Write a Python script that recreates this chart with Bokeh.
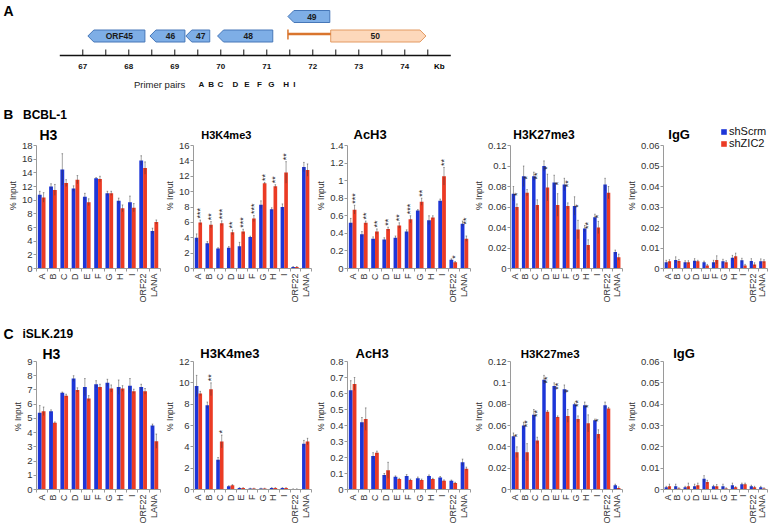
import math
from bokeh.plotting import figure
from bokeh.models import Range1d, FixedTicker, ColumnDataSource, Legend, LegendItem
from bokeh.layouts import column, row
from bokeh.embed import file_html
from bokeh.resources import INLINE
from bokeh.core.properties import value

FONT = "Liberation Sans"
BLUE = "#1d36d8"
RED = "#eb3b24"

sites = ["A", "B", "C", "D", "E", "F", "G", "H", "I", "ORF22", "LANA"]
series_names = ["shScrm", "shZIC2"]

# ---------------- gene map (kb) ----------------
gene_names = ["ORF45", "46", "47", "48", "49", "50"]
gene_start = [67.11, 68.46, 69.24, 69.93, 71.46, 72.39]
gene_end = [68.35, 69.22, 69.76, 71.13, 72.37, 74.46]
gene_strand = [-1, -1, -1, -1, -1, 1]
gene_track = [0, 0, 0, 0, 1, 0]
promoter_kb = [71.46, 72.39]
kb_ticks = [67.0, 67.5, 68.0, 68.5, 69.0, 69.5, 70.0, 70.5, 71.0, 71.5, 72.0, 72.5, 73.0, 73.5, 74.0, 74.5]
kb_labels = ["67", "68", "69", "70", "71", "72", "73", "74"]
kb_label_pos = [67.0, 68.0, 69.0, 70.0, 71.0, 72.0, 73.0, 74.0]
ruler_kb = [66.5, 75.0]
primer_names = ["A", "B", "C", "D", "E", "F", "G", "H", "I"]
primer_kb = [69.58, 69.79, 69.99, 70.32, 70.57, 70.84, 71.10, 71.42, 71.60]

# ---------------- BCBL-1 ----------------
b_h3_scrm = [10.8, 12.0, 14.5, 11.7, 10.5, 13.2, 11.0, 9.9, 9.7, 15.8, 5.5]
b_h3_scrm_err = [0.5, 0.4, 2.3, 0.4, 0.5, 0.1, 0.3, 0.4, 0.9, 0.7, 0.4]
b_h3_zic2 = [10.4, 11.5, 12.5, 13.0, 9.7, 13.1, 11.0, 8.8, 8.9, 14.7, 6.8]
b_h3_zic2_err = [0.7, 0.8, 0.5, 0.6, 0.5, 0.4, 0.3, 0.5, 0.6, 0.9, 0.3]
b_h3_sig = [""] * 11

b_k4_scrm = [4.0, 3.3, 2.6, 2.7, 2.9, 4.1, 8.3, 7.7, 8.0, 0.2, 13.2]
b_k4_scrm_err = [0.5, 0.2, 0.1, 0.15, 0.5, 0.1, 0.5, 0.2, 0.4, 0.05, 0.6]
b_k4_zic2 = [6.0, 5.7, 5.9, 4.7, 4.8, 6.5, 11.1, 10.7, 12.5, 0.2, 12.8]
b_k4_zic2_err = [0.3, 0.4, 0.3, 0.3, 0.3, 0.4, 0.1, 0.2, 1.4, 0.05, 0.8]
b_k4_sig = ["***", "**", "***", "**", "***", "***", "**", "**", "**", "", ""]

b_ac_scrm = [0.52, 0.39, 0.34, 0.33, 0.35, 0.42, 0.66, 0.55, 0.77, 0.10, 0.51]
b_ac_scrm_err = [0.05, 0.03, 0.02, 0.02, 0.02, 0.02, 0.01, 0.05, 0.02, 0.01, 0.03]
b_ac_zic2 = [0.67, 0.52, 0.42, 0.45, 0.49, 0.56, 0.76, 0.58, 1.05, 0.07, 0.34]
b_ac_zic2_err = [0.05, 0.02, 0.03, 0.02, 0.03, 0.04, 0.04, 0.02, 0.10, 0.01, 0.03]
b_ac_sig = ["***", "**", "**", "**", "**", "***", "**", "", "**", "*", "**"]

b_k27_scrm = [0.073, 0.090, 0.090, 0.100, 0.084, 0.082, 0.061, 0.039, 0.050, 0.082, 0.016]
b_k27_scrm_err = [0.007, 0.010, 0.004, 0.005, 0.007, 0.006, 0.009, 0.003, 0.003, 0.006, 0.002]
b_k27_zic2 = [0.060, 0.074, 0.062, 0.079, 0.062, 0.061, 0.038, 0.023, 0.040, 0.074, 0.011]
b_k27_zic2_err = [0.003, 0.003, 0.005, 0.013, 0.011, 0.003, 0.009, 0.005, 0.006, 0.006, 0.003]
b_k27_sig = ["*", "*", "**", "*", "*", "**", "*", "**", "*", "", ""]

b_igg_scrm = [0.0030, 0.0042, 0.0030, 0.0038, 0.0030, 0.0030, 0.0035, 0.0052, 0.0040, 0.0036, 0.0035]
b_igg_scrm_err = [0.0010, 0.0015, 0.0008, 0.0010, 0.0006, 0.0010, 0.0010, 0.0012, 0.0010, 0.0012, 0.0012]
b_igg_zic2 = [0.0035, 0.0036, 0.0030, 0.0035, 0.0015, 0.0042, 0.0030, 0.0060, 0.0015, 0.0020, 0.0035]
b_igg_zic2_err = [0.0008, 0.0008, 0.0008, 0.0005, 0.0005, 0.0020, 0.0008, 0.0015, 0.0005, 0.0008, 0.0008]
b_igg_sig = [""] * 11

# ---------------- iSLK.219 ----------------
c_h3_scrm = [5.4, 5.5, 6.8, 7.8, 7.2, 7.4, 7.5, 7.2, 7.3, 7.2, 4.5]
c_h3_scrm_err = [0.5, 0.1, 0.05, 0.2, 0.6, 0.25, 0.25, 0.5, 0.5, 0.2, 0.1]
c_h3_zic2 = [5.5, 4.7, 6.6, 7.0, 6.4, 7.2, 7.1, 7.1, 6.9, 6.9, 3.4]
c_h3_zic2_err = [0.3, 0.05, 0.1, 0.15, 0.2, 0.2, 0.25, 0.2, 0.15, 0.2, 0.5]
c_h3_sig = [""] * 11

c_k4_scrm = [9.7, 7.9, 2.8, 0.3, 0.15, 0.1, 0.1, 0.15, 0.15, 0.05, 4.3]
c_k4_scrm_err = [1.0, 0.3, 0.2, 0.05, 0.02, 0.02, 0.02, 0.02, 0.02, 0.01, 0.3]
c_k4_zic2 = [9.0, 9.4, 4.5, 0.4, 0.15, 0.1, 0.1, 0.15, 0.15, 0.05, 4.5]
c_k4_zic2_err = [0.2, 0.6, 0.6, 0.05, 0.02, 0.02, 0.02, 0.02, 0.02, 0.01, 0.3]
c_k4_sig = ["", "**", "*", "", "", "", "", "", "", "", ""]

c_ac_scrm = [0.62, 0.42, 0.21, 0.09, 0.08, 0.085, 0.07, 0.085, 0.075, 0.055, 0.17]
c_ac_scrm_err = [0.06, 0.03, 0.02, 0.01, 0.005, 0.008, 0.008, 0.006, 0.006, 0.004, 0.02]
c_ac_zic2 = [0.66, 0.44, 0.23, 0.12, 0.065, 0.06, 0.06, 0.065, 0.055, 0.04, 0.13]
c_ac_zic2_err = [0.04, 0.07, 0.01, 0.05, 0.005, 0.005, 0.005, 0.005, 0.005, 0.005, 0.01]
c_ac_sig = [""] * 11

c_k27_scrm = [0.050, 0.060, 0.070, 0.103, 0.097, 0.094, 0.080, 0.079, 0.065, 0.079, 0.004]
c_k27_scrm_err = [0.003, 0.003, 0.005, 0.004, 0.003, 0.004, 0.001, 0.003, 0.001, 0.003, 0.001]
c_k27_zic2 = [0.035, 0.035, 0.046, 0.073, 0.068, 0.069, 0.066, 0.062, 0.052, 0.076, 0.0015]
c_k27_zic2_err = [0.005, 0.008, 0.003, 0.001, 0.001, 0.006, 0.003, 0.008, 0.004, 0.001, 0.001]
c_k27_sig = ["*", "**", "**", "**", "**", "*", "**", "*", "*", "", ""]

c_igg_scrm = [0.0010, 0.0015, 0.0010, 0.0015, 0.0050, 0.0015, 0.0015, 0.0020, 0.0025, 0.0015, 0.0010]
c_igg_scrm_err = [0.0005, 0.0010, 0.0005, 0.0010, 0.0015, 0.0005, 0.0010, 0.0010, 0.0005, 0.0005, 0.0005]
c_igg_zic2 = [0.0015, 0.0005, 0.0015, 0.0020, 0.0035, 0.0015, 0.0005, 0.0010, 0.0025, 0.0010, 0.0005]
c_igg_zic2_err = [0.0010, 0.0003, 0.0015, 0.0010, 0.0008, 0.0008, 0.0003, 0.0003, 0.0005, 0.0005, 0.0003]
c_igg_sig = [""] * 11


def text(p, x, y, s, size, bold=False, align="left", baseline="middle", color="#000000", angle=0.0):
    p.text(x=[x], y=[y], text=[s], text_font=value(FONT), text_font_size=size,
           text_font_style="bold" if bold else "normal", text_align=align,
           text_baseline=baseline, text_color=color, angle=angle)


def panel(title, scrm, scrm_err, zic2, zic2_err, sig, ymax, step, width, left, right,
          frame_h, bottom, top_px, title_px, title_dx, title_size, legend=False):
    n = len(sites)
    frame_w = width - left - right
    y_end = ymax * frame_h / (frame_h - top_px)
    p = figure(width=width, height=frame_h + bottom, x_range=Range1d(0, n),
               y_range=Range1d(0, y_end), output_backend="svg", toolbar_location=None,
               min_border_left=left, min_border_right=right, min_border_top=0,
               min_border_bottom=bottom, outline_line_color=None)
    p.grid.visible = False
    xc = [i + 0.45 for i in range(n)]
    xb = [i + 0.29 for i in range(n)]
    xr = [i + 0.63 for i in range(n)]
    cap = 0.07
    src = ColumnDataSource(dict(
        xb=xb, xr=xr, scrm=scrm, zic2=zic2,
        b_lo=[max(v - e, 0) for v, e in zip(scrm, scrm_err)],
        b_hi=[v + e for v, e in zip(scrm, scrm_err)],
        r_lo=[max(v - e, 0) for v, e in zip(zic2, zic2_err)],
        r_hi=[v + e for v, e in zip(zic2, zic2_err)],
        xb_l=[x - cap for x in xb], xb_r=[x + cap for x in xb],
        xr_l=[x - cap for x in xr], xr_r=[x + cap for x in xr],
    ))
    rb = p.vbar(x="xb", top="scrm", width=0.34, source=src, fill_color=BLUE, line_color=None)
    rr = p.vbar(x="xr", top="zic2", width=0.34, source=src, fill_color=RED, line_color=None)
    for a, lo, hi, l, r in (("xb", "b_lo", "b_hi", "xb_l", "xb_r"), ("xr", "r_lo", "r_hi", "xr_l", "xr_r")):
        p.segment(x0=a, y0=lo, x1=a, y1=hi, source=src, line_color="#333333", line_alpha=0.45, line_width=1)
        p.segment(x0=l, y0=hi, x1=r, y1=hi, source=src, line_color="#333333", line_alpha=0.45, line_width=1)
    # significance marks
    sx, sy, st = [], [], []
    for i in range(n):
        if sig[i]:
            sx.append(xr[i])
            sy.append(max(zic2[i] + zic2_err[i], scrm[i] * 0.95) + 0.012 * ymax)
            st.append(sig[i])
    if st:
        p.text(x=sx, y=sy, text=st, angle=math.pi / 2, text_align="left", text_baseline="middle",
               text_font=value(FONT), text_font_size="9px", text_color="#222222")
    # title
    text(p, title_dx * n / frame_w, y_end * (frame_h - title_px) / frame_h, title, title_size, bold=True)

    xa = p.xaxis[0]
    xa.ticker = FixedTicker(ticks=xc, minor_ticks=list(range(n + 1)))
    xa.major_label_overrides = {x: s for x, s in zip(xc, sites)}
    xa.major_label_orientation = math.pi / 2
    xa.major_tick_out = 0
    xa.major_tick_in = 0
    xa.minor_tick_out = 3
    xa.minor_tick_in = 0
    xa.axis_line_color = "#9a9a9a"
    xa.minor_tick_line_color = "#9a9a9a"
    xa.major_label_text_font = FONT
    xa.major_label_text_font_size = "9px"
    xa.major_label_text_color = "#333333"
    xa.major_label_standoff = 2

    ticks = [round(i * step, 6) for i in range(int(round(ymax / step)) + 1)]
    ya = p.yaxis[0]
    ya.ticker = FixedTicker(ticks=ticks)
    ya.major_label_overrides = {t: f"{t:g}" for t in ticks}
    ya.bounds = (0, ymax)
    ya.axis_label = "% Input"
    ya.axis_label_text_font = FONT
    ya.axis_label_text_font_style = "normal"
    ya.axis_label_text_font_size = "8.5px"
    ya.axis_label_text_color = "#333333"
    ya.axis_label_standoff = 1
    ya.major_label_standoff = 1
    ya.major_label_text_font = FONT
    ya.major_label_text_font_size = "9.5px"
    ya.major_label_text_color = "#333333"
    ya.major_tick_out = 3
    ya.major_tick_in = 0
    ya.minor_tick_out = 0
    ya.minor_tick_in = 0
    ya.axis_line_color = "#9a9a9a"
    ya.major_tick_line_color = "#9a9a9a"

    if legend:
        lg = Legend(items=[LegendItem(label=series_names[0], renderers=[rb]),
                           LegendItem(label=series_names[1], renderers=[rr])],
                    location=(57, frame_h - 27), glyph_width=7, glyph_height=7,
                    label_height=11, spacing=0, padding=0, margin=0, label_standoff=2,
                    label_text_font=FONT, label_text_font_size="11px",
                    label_text_color="#111111", border_line_alpha=0,
                    background_fill_alpha=0)
        p.add_layout(lg, "center")
    return p


# ---------------- map figure ----------------
MAP_H = 122
pm = figure(width=768, height=MAP_H, x_range=Range1d(65.211, 81.907),
            y_range=Range1d(MAP_H, 0), x_axis_location=None, y_axis_location=None,
            toolbar_location=None, output_backend="svg", min_border=0, outline_line_color=None)
pm.xgrid.visible = False
pm.ygrid.visible = False
track_y = [35.5, 16.0]
hh = 6.0
head = 0.13
xs, ys, fills, lines = [], [], [], []
lab_x, lab_y = [], []
for nm, s, e, d, t in zip(gene_names, gene_start, gene_end, gene_strand, gene_track):
    yc = track_y[t]
    if d < 0:
        xs.append([s, s + head, e, e, s + head])
        ys.append([yc, yc - hh, yc - hh, yc + hh, yc + hh])
        lab_x.append((s + head + e) / 2)
        fills.append("#7eaee6")
        lines.append("#4677b8")
    else:
        xs.append([s, e - head, e, e - head, s])
        ys.append([yc - hh, yc - hh, yc, yc + hh, yc + hh])
        lab_x.append((s + e - head) / 2)
        fills.append("#fdd8bb")
        lines.append("#e39a62")
    lab_y.append(yc)
pm.patches(xs=xs, ys=ys, fill_color=fills, line_color=lines, line_width=1)
pm.text(x=lab_x, y=lab_y, text=gene_names, text_font=value(FONT), text_font_size="8.5px",
        text_font_style="bold", text_align="center", text_baseline="middle", text_color="#1a1a1a")
# promoter line
pm.segment(x0=[promoter_kb[0]], y0=[33.5], x1=[promoter_kb[1]], y1=[33.5], line_color="#d9752e", line_width=2.5)
pm.segment(x0=[promoter_kb[0]], y0=[29], x1=[promoter_kb[0]], y1=[39], line_color="#d9752e", line_width=1.5)
# ruler
pm.segment(x0=[ruler_kb[0]], y0=[55], x1=[ruler_kb[1]], y1=[55], line_color="#111111", line_width=1.3)
pm.segment(x0=kb_ticks, y0=[49] * len(kb_ticks), x1=kb_ticks, y1=[55] * len(kb_ticks), line_color="#111111", line_width=1)
pm.text(x=kb_label_pos, y=[66] * len(kb_label_pos), text=kb_labels, text_font=value(FONT), text_font_size="8px",
        text_font_style="bold", text_align="center", text_baseline="middle", text_color="#111111")
text(pm, 74.75, 66, "Kb", "8px", bold=True, align="center")
pm.text(x=primer_kb, y=[83.5] * len(primer_kb), text=primer_names, text_font=value(FONT), text_font_size="8px",
        text_font_style="bold", text_align="center", text_baseline="middle", text_color="#111111")
text(pm, 68.67, 83.5, "Primer pairs", "9.5px", align="center", color="#222222")
text(pm, 65.276, 10, "A", "14px", bold=True)
text(pm, 65.276, 113.5, "B", "13.5px", bold=True)
text(pm, 65.70, 114, "BCBL-1", "12px", bold=True)

# ---------------- rows ----------------
widths = [161, 151, 159, 153, 144]
lefts = [36, 28, 35, 31, 35]
rights = [1, 1, 1, 2, 1]

FB, BB = 146, 54
row_b = [
    panel("H3", b_h3_scrm, b_h3_scrm_err, b_h3_zic2, b_h3_zic2_err, b_h3_sig, 18, 2, widths[0], lefts[0], rights[0], FB, BB, 23, 12, 3, "14px"),
    panel("H3K4me3", b_k4_scrm, b_k4_scrm_err, b_k4_zic2, b_k4_zic2_err, b_k4_sig, 16, 2, widths[1], lefts[1], rights[1], FB, BB, 23, 12, 8, "11px"),
    panel("AcH3", b_ac_scrm, b_ac_scrm_err, b_ac_zic2, b_ac_zic2_err, b_ac_sig, 1.4, 0.2, widths[2], lefts[2], rights[2], FB, BB, 23, 12, 6, "13px"),
    panel("H3K27me3", b_k27_scrm, b_k27_scrm_err, b_k27_zic2, b_k27_zic2_err, b_k27_sig, 0.12, 0.02, widths[3], lefts[3], rights[3], FB, BB, 23, 12, 3, "12px"),
    panel("IgG", b_igg_scrm, b_igg_scrm_err, b_igg_zic2, b_igg_zic2_err, b_igg_sig, 0.06, 0.01, widths[4], lefts[4], rights[4], FB, BB, 23, 12, 5, "13px", legend=True),
]

pc = figure(width=768, height=21, x_range=Range1d(0, 768), y_range=Range1d(21, 0),
            x_axis_location=None, y_axis_location=None, toolbar_location=None,
            output_backend="svg", min_border=0, outline_line_color=None)
pc.xgrid.visible = False
pc.ygrid.visible = False
text(pc, 3, 11, "C", "14px", bold=True)
text(pc, 22, 11.5, "iSLK.219", "12px", bold=True)

FC, BC = 146, 37
row_c = [
    panel("H3", c_h3_scrm, c_h3_scrm_err, c_h3_zic2, c_h3_zic2_err, c_h3_sig, 9, 1, widths[0], lefts[0], rights[0], FC, BC, 18, 10, 6, "14px"),
    panel("H3K4me3", c_k4_scrm, c_k4_scrm_err, c_k4_zic2, c_k4_zic2_err, c_k4_sig, 12, 2, widths[1], lefts[1], rights[1], FC, BC, 18, 10, 7, "13px"),
    panel("AcH3", c_ac_scrm, c_ac_scrm_err, c_ac_zic2, c_ac_zic2_err, c_ac_sig, 0.8, 0.1, widths[2], lefts[2], rights[2], FC, BC, 18, 10, 8, "13px"),
    panel("H3K27me3", c_k27_scrm, c_k27_scrm_err, c_k27_zic2, c_k27_zic2_err, c_k27_sig, 0.12, 0.02, widths[3], lefts[3], rights[3], FC, BC, 18, 10, 11, "11.5px"),
    panel("IgG", c_igg_scrm, c_igg_scrm_err, c_igg_zic2, c_igg_zic2_err, c_igg_sig, 0.06, 0.01, widths[4], lefts[4], rights[4], FC, BC, 18, 10, 10, "13px"),
]

layout = column(pm, row(*row_b), pc, row(*row_c))
open("out.html", "w").write(file_html(layout, INLINE))
